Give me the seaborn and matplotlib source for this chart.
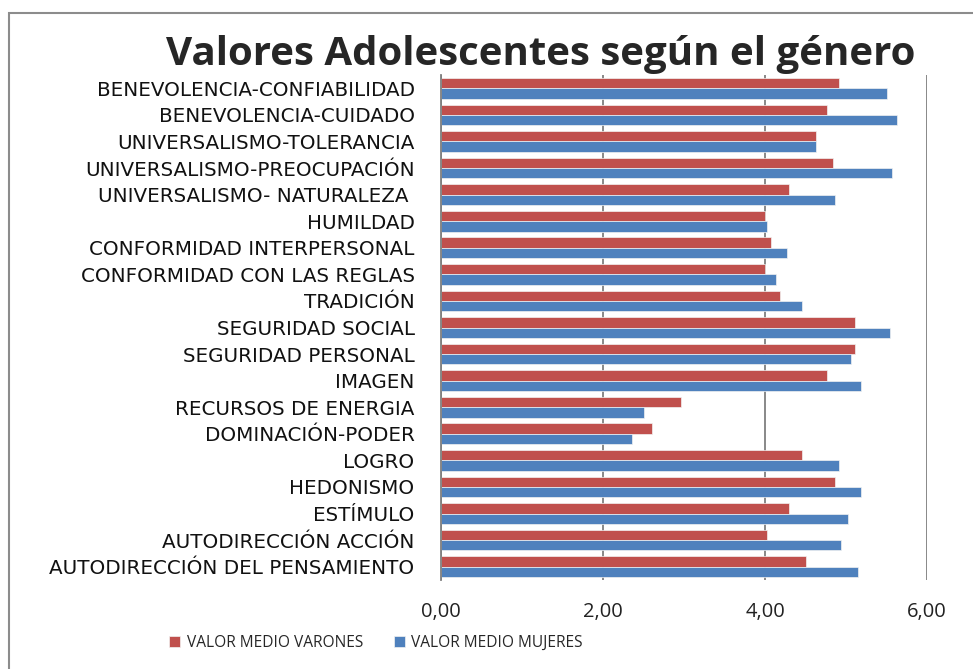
import numpy as np
import pandas as pd
import seaborn as sns
import matplotlib.pyplot as plt
from matplotlib.patches import Rectangle

categorias = [
    "BENEVOLENCIA-CONFIABILIDAD", "BENEVOLENCIA-CUIDADO", "UNIVERSALISMO-TOLERANCIA",
    "UNIVERSALISMO-PREOCUPACIÓN", "UNIVERSALISMO- NATURALEZA ", "HUMILDAD",
    "CONFORMIDAD INTERPERSONAL", "CONFORMIDAD CON LAS REGLAS", "TRADICIÓN",
    "SEGURIDAD SOCIAL", "SEGURIDAD PERSONAL", "IMAGEN", "RECURSOS DE ENERGIA",
    "DOMINACIÓN-PODER", "LOGRO", "HEDONISMO", "ESTÍMULO", "AUTODIRECCIÓN ACCIÓN",
    "AUTODIRECCIÓN DEL PENSAMIENTO",
]
varones = [4.91, 4.76, 4.63, 4.84, 4.30, 4.00, 4.07, 4.00, 4.19, 5.11,
           5.11, 4.76, 2.96, 2.60, 4.46, 4.87, 4.30, 4.03, 4.50]
mujeres = [5.50, 5.63, 4.63, 5.57, 4.87, 4.03, 4.27, 4.13, 4.46, 5.54,
           5.06, 5.18, 2.50, 2.36, 4.91, 5.18, 5.03, 4.94, 5.15]
series = ["VALOR MEDIO VARONES", "VALOR MEDIO MUJERES"]
colores = ["#C0504D", "#4F81BD"]

df = pd.DataFrame({
    "valor": varones + mujeres,
    "categoria": categorias * 2,
    "serie": [series[0]] * len(categorias) + [series[1]] * len(categorias),
})

sns.set_style("white")
plt.rcParams['font.family'] = ['Open Sans', 'DejaVu Sans']

fig = plt.figure(figsize=(9.73, 6.69), dpi=100)
ax = fig.add_axes([441 / 973, 1 - 580 / 669, 486 / 973, 505 / 669])

sns.barplot(data=df, x="valor", y="categoria", hue="serie", order=categorias,
            hue_order=series, palette=colores, saturation=1, width=0.78, ax=ax,
            edgecolor="#F2F2F2", linewidth=0.5, legend=True)

ax.set_xlim(0, 6)
ax.set_xticks([0, 2, 4, 6])
ax.set_xticklabels(["0,00", "2,00", "4,00", "6,00"], fontsize=14.5, color="#222222")
ax.tick_params(axis="x", length=4, color="#808080", pad=12)
ax.tick_params(axis="y", length=0, pad=19)
for lab in ax.get_yticklabels():
    lab.set_family("DejaVu Sans")
    lab.set_fontsize(14.3)
    lab.set_color("#111111")
ax.set_xlabel("")
ax.set_ylabel("")
ax.xaxis.grid(True, color="#7F7F7F", linewidth=1.3)
ax.set_axisbelow(True)
for s in ["top", "right", "bottom"]:
    ax.spines[s].set_visible(False)
ax.spines["left"].set_color("#7F7F7F")
ax.spines["left"].set_linewidth(1.3)

ax.legend(loc="center", bbox_to_anchor=(376 / 973, 1 - 643 / 669),
          bbox_transform=fig.transFigure, ncol=2, frameon=False,
          fontsize=11.2, handlelength=0.7, handleheight=0.7, handletextpad=0.4,
          columnspacing=2.0)

fig.text(541 / 973, 1 - 55 / 669, "Valores Adolescentes según el género",
         ha="center", va="center", fontsize=29, fontweight="bold")

fig.patches.append(Rectangle((9 / 973, -0.05), 1.2, 1 - 13 / 669 + 0.05,
                             transform=fig.transFigure, fill=False,
                             edgecolor="#8C8C8C", linewidth=1.5))

fig.savefig("out.png", dpi=100)
